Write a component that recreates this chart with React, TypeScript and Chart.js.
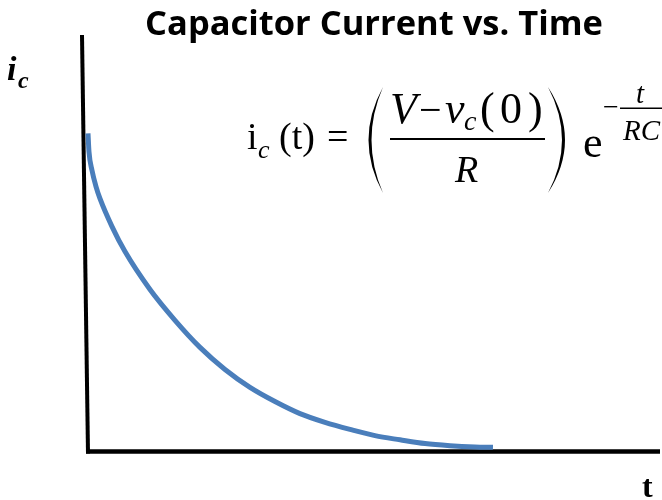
import React, { useEffect, useRef } from "react";
import { Chart, registerables } from "chart.js";

Chart.register(...registerables);

// ---- data ----
const TITLE = "Capacitor Current vs. Time";
const Y_LABEL = "i";
const Y_LABEL_SUB = "c";
const X_LABEL = "t";
const timeValues = [0, 0.017, 0.07, 0.14, 0.21, 0.42, 0.647, 1.084, 1.521, 1.958, 2.395, 2.832, 3.269, 3.706, 4.143, 4.58, 5.017, 5.455, 5.892, 6.329, 6.766, 7.08];
const currentValues = [7.64, 7.2, 6.75, 6.36, 6.07, 5.4, 4.8, 3.89, 3.15, 2.5, 1.97, 1.54, 1.2, 0.91, 0.7, 0.53, 0.38, 0.28, 0.19, 0.14, 0.11, 0.1];
const X_MAX = 10;
const Y_MAX = 10;

const SERIF = '"Liberation Serif", "Times New Roman", serif';

const decorPlugin = {
  id: "decor",
  beforeDatasetsDraw(chart: any) {
    const { ctx, chartArea } = chart;
    const { left, right, top, bottom } = chartArea;
    ctx.save();
    ctx.strokeStyle = "#000";
    ctx.lineCap = "butt";
    // vertical axis (slightly tilted as in reference)
    ctx.lineWidth = 4;
    ctx.beginPath();
    ctx.moveTo(left - 6, top);
    ctx.lineTo(left, bottom + 2);
    ctx.stroke();
    // horizontal axis
    ctx.lineWidth = 4.5;
    ctx.beginPath();
    ctx.moveTo(left - 2, bottom);
    ctx.lineTo(right, bottom);
    ctx.stroke();
    ctx.restore();
  },
  afterDraw(chart: any) {
    const { ctx } = chart;
    ctx.save();
    ctx.fillStyle = "#000";
    ctx.textBaseline = "alphabetic";
    const txt = (s: string, x: number, y: number, font: string, align: CanvasTextAlign = "left") => {
      ctx.font = font;
      ctx.textAlign = align;
      ctx.fillText(s, x, y);
    };

    // title, fitted to reference width
    let size = 34;
    ctx.font = `bold ${size}px "Open Sans", sans-serif`;
    const w = ctx.measureText(TITLE).width;
    size = (size * 458) / w;
    txt(TITLE, 374, 35, `bold ${size}px "Open Sans", sans-serif`, "center");

    // y label
    txt(Y_LABEL, 7, 80, `italic bold 34px ${SERIF}`);
    txt(Y_LABEL_SUB, 18, 88, `italic bold 24px ${SERIF}`);
    // x label
    txt(X_LABEL, 642, 497, `bold 32px ${SERIF}`);

    // formula
    const f = 38;
    txt("i", 247, 149, `${f}px ${SERIF}`);
    txt("c", 258, 158, `italic 26px ${SERIF}`);
    txt("(t)", 279, 149, `${f}px ${SERIF}`);
    txt("=", 327, 149, `${f}px ${SERIF}`);

    // big parentheses
    ctx.beginPath();
    ctx.moveTo(383, 87);
    ctx.quadraticCurveTo(354, 140, 383, 193);
    ctx.quadraticCurveTo(360, 140, 383, 87);
    ctx.fill();
    ctx.beginPath();
    ctx.moveTo(548, 87);
    ctx.quadraticCurveTo(582, 140, 548, 193);
    ctx.quadraticCurveTo(576, 140, 548, 87);
    ctx.fill();

    // numerator
    const n = 44;
    txt("V", 390, 123, `italic ${n}px ${SERIF}`);
    txt("\u2212", 419, 123, `${n - 4}px ${SERIF}`);
    txt("v", 445, 123, `italic ${n}px ${SERIF}`);
    txt("c", 464, 130, `italic 28px ${SERIF}`);
    txt("(", 480, 123, `${n}px ${SERIF}`);
    txt("0", 500, 123, `${n}px ${SERIF}`);
    txt(")", 528, 123, `${n}px ${SERIF}`);
    // fraction bar
    ctx.fillRect(390, 138, 155, 2);
    // denominator
    txt("R", 455, 182, `italic 38px ${SERIF}`);

    // exponential
    txt("e", 583, 157, `44px ${SERIF}`);
    txt("\u2212", 603, 116, `28px ${SERIF}`);
    ctx.fillRect(620, 107.5, 42, 1.5);
    txt("t", 636, 103, `italic 29px ${SERIF}`);
    txt("RC", 623, 140, `italic 29px ${SERIF}`);

    ctx.restore();
  },
};

export default function App() {
  const ref = useRef<HTMLCanvasElement | null>(null);
  useEffect(() => {
    if (!ref.current) return;
    const chart = new Chart(ref.current, {
      type: "line",
      data: {
        datasets: [
          {
            label: "i_c",
            data: timeValues.map((t, i) => ({ x: t, y: currentValues[i] })),
            borderColor: "#4A7EBB",
            borderWidth: 5,
            pointRadius: 0,
            fill: false,
            cubicInterpolationMode: "monotone",
            clip: false as any,
          },
        ],
      },
      options: {
        animation: false,
        responsive: false,
        maintainAspectRatio: false,
        layout: { padding: { left: 88, right: 2, top: 35, bottom: 48.5 } },
        plugins: { legend: { display: false }, title: { display: false }, tooltip: { enabled: false } },
        scales: {
          x: { type: "linear", min: 0, max: X_MAX, display: false },
          y: { type: "linear", min: 0, max: Y_MAX, display: false },
        },
      },
      plugins: [decorPlugin],
    });
    return () => chart.destroy();
  }, []);
  return (
    <div style={{ position: "absolute", left: 0, top: 0, width: 662, height: 500, background: "#fff" }}>
      <canvas ref={ref} width={662} height={500} />
    </div>
  );
}
